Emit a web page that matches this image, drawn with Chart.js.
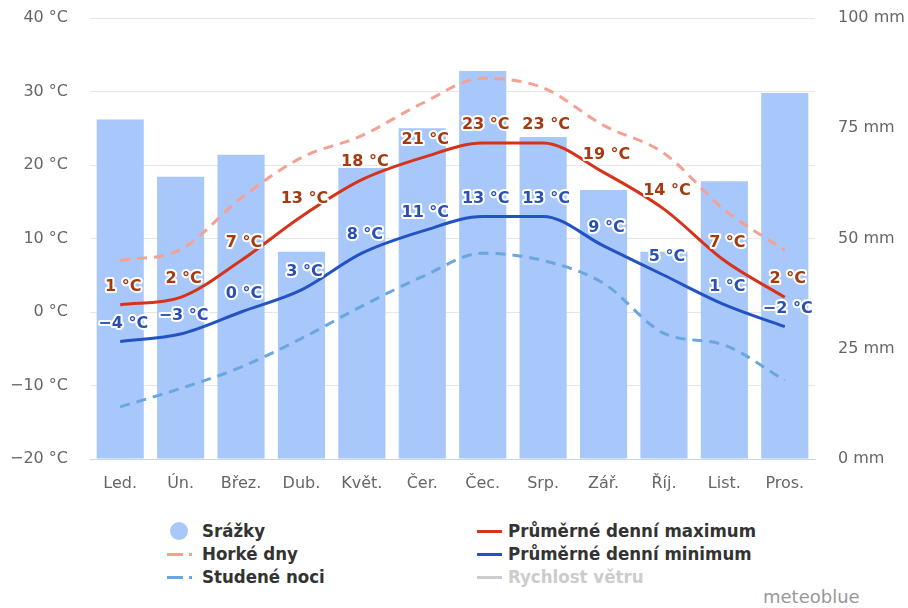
<!DOCTYPE html>
<html>
<head>
<meta charset="utf-8">
<script src="https://cdn.jsdelivr.net/npm/chart.js@4.4.1/dist/chart.umd.min.js"></script>
<style>
  html, body { margin: 0; padding: 0; background: #fff; }
  #wrap { position: relative; width: 908px; height: 608px; overflow: hidden; }
  #chartBox { position: absolute; left: 0; top: 0; width: 908px; height: 500px; }
  .leg { position: absolute; font-family: 'DejaVu Sans Condensed', 'DejaVu Sans', sans-serif; font-weight: bold; font-size: 18.5px; color: #333; white-space: nowrap; line-height: 20px; }
  .leg.off { color: #ccc; }
  .ico { position: absolute; }
  #brand { position: absolute; left: 763px; top: 586px; font-family: 'DejaVu Sans', sans-serif; font-size: 18px; color: #999; }
</style>
</head>
<body>
<div id="wrap">
  <div id="chartBox"><canvas id="climate"></canvas></div>
  <div id="legend"></div>
  <div id="brand">meteoblue</div>
</div>
<script>
// ===================================================================
// DATA
// ===================================================================
const months = ['Led.', 'Ún.', 'Břez.', 'Dub.', 'Květ.', 'Čer.', 'Čec.', 'Srp.', 'Zář.', 'Říj.', 'List.', 'Pros.'];
const precipitation = [77, 64, 69, 47, 66, 75, 88, 73, 61, 47, 63, 83];
const tempMax = [1, 2, 7, 13, 18, 21, 23, 23, 19, 14, 7, 2];
const tempMin = [-4, -3, 0, 3, 8, 11, 13, 13, 9, 5, 1, -2];
const hotDays = [7, 8.5, 15.5, 21, 24, 28.4, 31.8, 30.5, 25.4, 21.6, 13.9, 8.4];
const coldNights = [-12.9, -10.4, -7.5, -3.6, 0.8, 4.8, 8, 7, 3.9, -2.9, -4.5, -9.3];
const tempTicks = [-20, -10, 0, 10, 20, 30, 40];
const mmTicks = [0, 25, 50, 75, 100];

// Theme Colors
const colors = {
  bar: '#a8c7fa',
  max: '#d5341a',
  min: '#2353c2',
  hot: '#f4a192',
  cold: '#6aa6e0',
  maxLabel: '#a5390f',
  minLabel: '#2b50b4',
  grid: '#e6e6e6',
  tick: '#666666'
};

const minus = v => String(v).replace('-', '\u2212');

// value labels above points, white halo like the original
const valueLabels = {
  id: 'valueLabels',
  afterDatasetsDraw(chart) {
    const ctx = chart.ctx;
    chart.data.datasets.forEach((ds, i) => {
      if (!ds.labelColor) return;
      const meta = chart.getDatasetMeta(i);
      ctx.save();
      ctx.font = 'bold 16px "DejaVu Sans", sans-serif';
      ctx.textAlign = 'center';
      ctx.textBaseline = 'middle';
      ctx.lineJoin = 'round';
      meta.data.forEach((pt, j) => {
        const txt = minus(ds.data[j]) + ' °C';
        const x = pt.x + 3, y = pt.y - 18;
        ctx.strokeStyle = '#fff';
        ctx.lineWidth = 4;
        ctx.strokeText(txt, x, y);
        ctx.fillStyle = ds.labelColor;
        ctx.fillText(txt, x, y);
      });
      ctx.restore();
    });
  }
};

Chart.defaults.font.family = "'DejaVu Sans', sans-serif";
Chart.defaults.font.size = 16;
Chart.defaults.color = colors.tick;

const ctx = document.getElementById('climate').getContext('2d');
const climateChart = new Chart(ctx, {
  type: 'bar',
  data: {
    labels: months,
    datasets: [
      {
        type: 'line',
        label: 'Průměrné denní maximum',
        data: tempMax,
        yAxisID: 'y',
        borderColor: colors.max,
        borderWidth: 3,
        pointRadius: 0,
        cubicInterpolationMode: 'monotone',
        labelColor: colors.maxLabel,
        order: 1
      },
      {
        type: 'line',
        label: 'Průměrné denní minimum',
        data: tempMin,
        yAxisID: 'y',
        borderColor: colors.min,
        borderWidth: 3,
        pointRadius: 0,
        cubicInterpolationMode: 'monotone',
        labelColor: colors.minLabel,
        order: 2
      },
      {
        type: 'line',
        label: 'Horké dny',
        data: hotDays,
        yAxisID: 'y',
        borderColor: colors.hot,
        borderWidth: 3,
        borderDash: [10, 7],
        pointRadius: 0,
        cubicInterpolationMode: 'monotone',
        order: 3
      },
      {
        type: 'line',
        label: 'Studené noci',
        data: coldNights,
        yAxisID: 'y',
        borderColor: colors.cold,
        borderWidth: 3,
        borderDash: [10, 7],
        pointRadius: 0,
        cubicInterpolationMode: 'monotone',
        order: 4
      },
      {
        type: 'bar',
        label: 'Srážky',
        data: precipitation,
        yAxisID: 'y1',
        backgroundColor: colors.bar,
        borderWidth: 0,
        categoryPercentage: 1,
        barPercentage: 0.78,
        order: 10
      }
    ]
  },
  options: {
    responsive: true,
    maintainAspectRatio: false,
    animation: false,
    layout: { padding: { top: 18, left: 0, right: 0, bottom: 0 } },
    scales: {
      x: {
        grid: { display: false },
        border: { display: true, color: '#ccd6eb', width: 1 },
        ticks: { color: colors.tick, padding: 7, maxRotation: 0 },
        afterFit: s => { s.height = 41; }
      },
      y: {
        position: 'left',
        min: -20,
        max: 40,
        afterBuildTicks: s => { s.ticks = tempTicks.map(v => ({ value: v })); },
        grid: { color: colors.grid, drawTicks: true, tickLength: 19, tickColor: 'rgba(0,0,0,0)' },
        border: { display: false },
        ticks: { color: colors.tick, padding: 3, callback: v => minus(v) + ' °C' },
        afterFit: s => { s.width = 90; }
      },
      y1: {
        position: 'right',
        min: 0,
        max: 100,
        afterBuildTicks: s => { s.ticks = mmTicks.map(v => ({ value: v })); },
        grid: { display: true, drawOnChartArea: false, drawTicks: true, tickLength: 20, tickColor: 'rgba(0,0,0,0)' },
        border: { display: false },
        ticks: { color: colors.tick, padding: 3, callback: v => v + ' mm' },
        afterFit: s => { s.width = 93; }
      }
    },
    plugins: {
      legend: { display: false },
      tooltip: { enabled: false }
    }
  },
  plugins: [valueLabels]
});

// ===================================================================
// HTML legend, two columns like the original
// ===================================================================
const legendItems = [
  { text: 'Srážky', kind: 'dot', color: colors.bar, x: 170, y: 521 },
  { text: 'Horké dny', kind: 'dash', color: colors.hot, x: 170, y: 544 },
  { text: 'Studené noci', kind: 'dash', color: colors.cold, x: 170, y: 567 },
  { text: 'Průměrné denní maximum', kind: 'line', color: colors.max, x: 477, y: 521 },
  { text: 'Průměrné denní minimum', kind: 'line', color: colors.min, x: 477, y: 544 },
  { text: 'Rychlost větru', kind: 'line', color: '#ccc', x: 477, y: 567, off: true }
];
const legendBox = document.getElementById('legend');
legendItems.forEach(it => {
  const ico = document.createElement('div');
  ico.className = 'ico';
  let textX = it.x + 32;
  if (it.kind === 'dot') {
    ico.style.cssText = `left:${it.x}px;top:${it.y + 1}px;width:18px;height:18px;border-radius:50%;background:${it.color}`;
  } else if (it.kind === 'dash') {
    ico.style.cssText = `left:${it.x - 3}px;top:${it.y + 9}px;width:16px;height:3px;background:${it.color}`;
    const dot = document.createElement('div');
    dot.className = 'ico';
    dot.style.cssText = `left:${it.x + 19}px;top:${it.y + 9}px;width:3px;height:3px;background:${it.color}`;
    legendBox.appendChild(dot);
  } else {
    ico.style.cssText = `left:${it.x}px;top:${it.y + 9}px;width:25px;height:3px;background:${it.color}`;
    textX = it.x + 31;
  }
  legendBox.appendChild(ico);
  const t = document.createElement('div');
  t.className = 'leg' + (it.off ? ' off' : '');
  t.style.left = textX + 'px';
  t.style.top = it.y + 'px';
  t.textContent = it.text;
  legendBox.appendChild(t);
});
</script>
</body>
</html>
